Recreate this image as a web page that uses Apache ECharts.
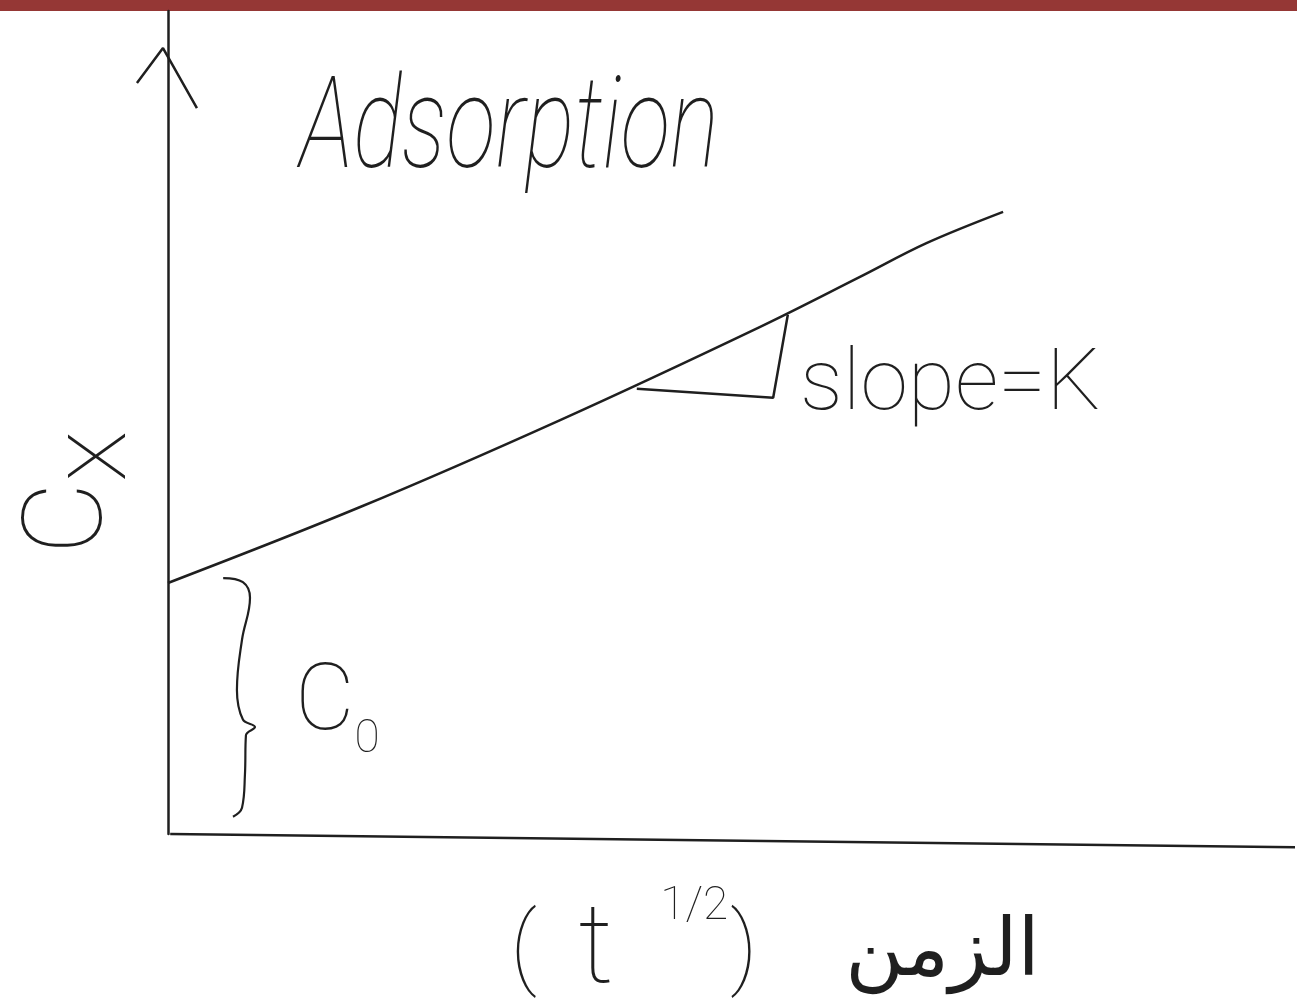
<!DOCTYPE html>
<html>
<head>
<meta charset="utf-8">
<title>Adsorption</title>
<script src="https://cdn.jsdelivr.net/npm/echarts@6/dist/echarts.min.js"></script>
<style>
  html, body { margin: 0; padding: 0; background: #ffffff; }
  #chart { width: 1297px; height: 1006px; }
</style>
</head>
<body>
<div id="chart"></div>
<script>
// Uptake against square root of time (arbitrary units, 0-100 on both axes)
const timeRoot = [0, 17.0, 34.8, 52.5, 61.4, 67.3, 74.1];
const uptake   = [30.5, 39.7, 50.3, 61.6, 67.7, 71.8, 75.6];

// Slope marker drawn under the line
const slopeTriX = [41.6, 53.7, 55.0];
const slopeTriY = [54.1, 53.0, 63.1];

// Time axis baseline (drawn slightly tilted, as sketched)
const baselineX = [0.2, 100];
const baselineY = [0, -1.6];

// Arrow head at the top of the vertical axis
const arrowX = [-2.75, -0.44, 2.57];
const arrowY = [91.25, 95.5, 88.2];

// Curly brace marking the intercept C0
const braceX = [4.9, 6.65, 7.28, 6.57, 6.12, 6.65, 7.72, 6.92, 6.83, 6.57, 5.77];
const braceY = [31.1, 30.6, 28.7, 23.6, 17.5, 13.9, 13.0, 12.0, 7.2, 3.2, 2.1];

// Text
const titleText = 'Adsorption';
const slopeText = 'slope=K';
const interceptMain = 'C';
const interceptSub = '0';
const yNameMain = 'C';
const yNameSub = 'x';
const xNameParts = ['(', 't', '1/2', ')', 'الزمن'];

const ink = '#1f1f1f';
const hand = 'Roboto';

function pairs(xs, ys) {
  return xs.map((x, i) => [x, ys[i]]);
}

const chart = echarts.init(document.getElementById('chart'), null, { renderer: 'canvas' });

const lineBase = {
  type: 'line',
  symbol: 'none',
  silent: true,
  clip: false,
  lineStyle: { color: ink, width: 2.5 }
};

chart.setOption({
  animation: false,
  backgroundColor: '#ffffff',
  grid: { left: 111.6, right: 2, top: 11, bottom: 172, containLabel: false, outerBoundsMode: 'none' },
  xAxis: {
    type: 'value', min: -5, max: 100,
    axisLine: { show: false }, axisTick: { show: false },
    axisLabel: { show: false }, splitLine: { show: false },
    name: '{lp|' + xNameParts[0] + '}{t|' + xNameParts[1] + '}{sup|' + xNameParts[2] + '}{rp|' + xNameParts[3] + '}{ar|' + xNameParts[4] + '}',
    nameLocation: 'middle',
    nameGap: 50,
    nameTextStyle: {
      padding: [0, 0, 0, 149],
      rich: {
        lp:  { fontFamily: hand, fontWeight: 100, fontSize: 90, lineHeight: 140, width: 68, align: 'left', color: ink },
        t:   { fontFamily: hand, fontWeight: 100, fontSize: 112, lineHeight: 140, width: 82, align: 'left', color: ink },
        sup: { fontFamily: hand, fontWeight: 100, fontSize: 46, lineHeight: 10, width: 70, align: 'left', verticalAlign: 'top', color: ink },
        rp:  { fontFamily: hand, fontWeight: 100, fontSize: 90, lineHeight: 140, width: 115, align: 'left', color: ink },
        ar:  { fontFamily: 'DejaVu Sans', fontSize: 80, lineHeight: 140, width: 200, align: 'left', verticalAlign: 'middle', color: ink }
      }
    }
  },
  yAxis: {
    type: 'value', min: 0, max: 100,
    axisLine: { show: true, onZero: true, lineStyle: { color: ink, width: 2.5 } },
    axisTick: { show: false }, axisLabel: { show: false }, splitLine: { show: false },
    name: '{c|' + yNameMain + '}{s|' + yNameSub + '}',
    nameLocation: 'middle',
    nameRotate: 90,
    nameGap: -67,
    nameTextStyle: {
      padding: [0, 140, 0, 0],
      rich: {
        c: { fontFamily: hand, fontWeight: 100, fontSize: 112, lineHeight: 110, verticalAlign: 'top', color: ink },
        s: { fontFamily: hand, fontWeight: 100, fontSize: 108, lineHeight: 162, verticalAlign: 'middle', color: ink }
      }
    }
  },
  graphic: [
    { type: 'rect', left: 0, top: 0, shape: { width: 1297, height: 11 }, style: { fill: '#953735' }, silent: true },
    {
      type: 'text', x: 300, y: 135, scaleY: 1.4, silent: true,
      style: { text: titleText, fontFamily: hand, fontWeight: 100, fontStyle: 'italic', fontSize: 92, fill: ink, textAlign: 'left', textVerticalAlign: 'middle' }
    },
    {
      type: 'text', x: 800, y: 387, silent: true,
      style: { text: slopeText, fontFamily: hand, fontWeight: 100, fontSize: 86, fill: ink, textAlign: 'left', textVerticalAlign: 'middle' }
    },
    {
      type: 'text', x: 295, y: 740, silent: true,
      style: {
        text: '{c|' + interceptMain + '}{s|' + interceptSub + '}',
        textAlign: 'left', textVerticalAlign: 'middle',
        rich: {
          c: { fontFamily: hand, fontWeight: 100, fontSize: 92, lineHeight: 90, verticalAlign: 'top', fill: ink, color: ink },
          s: { fontFamily: hand, fontWeight: 100, fontSize: 46, lineHeight: 160, verticalAlign: 'middle', fill: ink, color: ink }
        }
      }
    }
  ],
  series: [
    Object.assign({}, lineBase, { name: 'uptake', smooth: 0.35, data: pairs(timeRoot, uptake) }),
    Object.assign({}, lineBase, { name: 'slope', data: pairs(slopeTriX, slopeTriY) }),
    Object.assign({}, lineBase, { name: 'baseline', data: pairs(baselineX, baselineY) }),
    Object.assign({}, lineBase, { name: 'arrow', data: pairs(arrowX, arrowY) }),
    Object.assign({}, lineBase, { name: 'brace', smooth: 0.4, lineStyle: { color: ink, width: 2.2 }, data: pairs(braceX, braceY) })
  ]
});
</script>
</body>
</html>
